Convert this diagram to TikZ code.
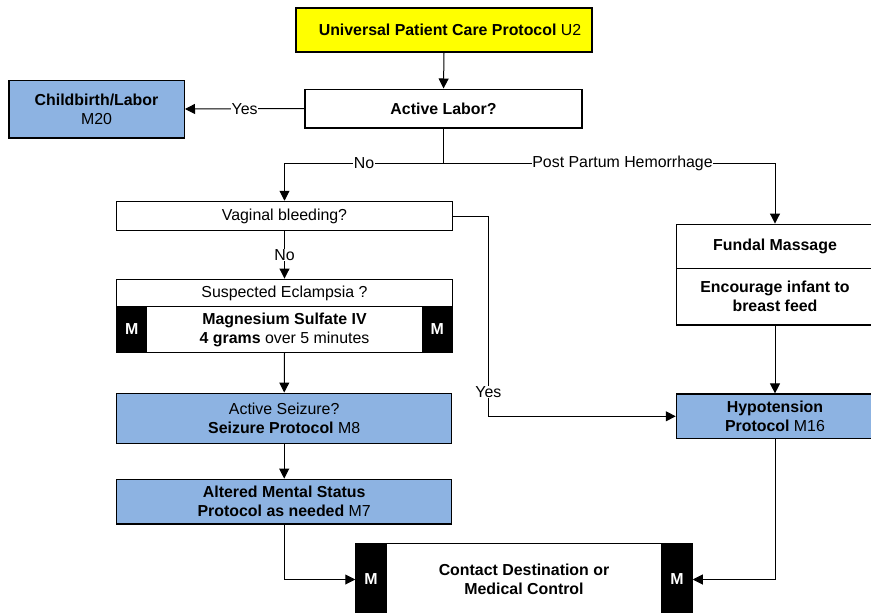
\documentclass[tikz,border=0pt]{standalone}
\usepackage{fontspec}
\setmainfont{Liberation Sans}
\usetikzlibrary{arrows.meta}
\definecolor{protoblue}{RGB}{141,179,226}
\definecolor{startyellow}{RGB}{255,255,0}
\tikzset{
  box/.style={draw=black, line width=1.5pt, inner sep=0pt, align=center,
    font=\fontsize{15.9}{19}\selectfont},
  whitebox/.style={box, fill=white},
  bluebox/.style={box, fill=protoblue},
  yellowbox/.style={box, fill=startyellow},
  mbox/.style={box, fill=black, text=white, font=\fontsize{15.9}{19}\selectfont\bfseries},
  link/.style={draw=black, line width=1pt, -{Triangle[length=10pt,width=10pt]}},
  plain/.style={draw=black, line width=1pt},
  lbl/.style={fill=white, inner sep=0.6pt, font=\fontsize{15.9}{19}\selectfont}
}
\begin{document}
\begin{tikzpicture}[x=1pt,y=-1pt]
\useasboundingbox (0,0) rectangle (871,613);

% start and first decision
\node[yellowbox, minimum width=296pt, minimum height=44pt] (upc) at (444,30)
  {\hspace*{12pt}\textbf{Universal Patient Care Protocol} U2};
\node[whitebox, minimum width=277pt, minimum height=38.5pt] (labor) at (443.5,108.5)
  {\textbf{Active Labor?}};
\node[bluebox, minimum width=175.5pt, minimum height=57.5pt] (birth) at (96.5,109)
  {\textbf{Childbirth/Labor}\\M20};

% left column
\node[whitebox, minimum width=335.6pt, minimum height=29pt] (bleed) at (284.5,216)
  {Vaginal bleeding?};
\node[whitebox, minimum width=335.6pt, minimum height=27.4pt] (eclq) at (284.5,293)
  {Suspected Eclampsia ?};
\node[whitebox, minimum width=335.6pt, minimum height=45.6pt] (mag) at (284.5,329.5)
  {\textbf{Magnesium Sulfate IV}\\\textbf{4 grams} over 5 minutes};
\node[mbox, minimum width=30pt, minimum height=45.6pt] (magml) at (131.7,329.5) {M};
\node[mbox, minimum width=30pt, minimum height=45.6pt] (magmr) at (437.3,329.5) {M};
\node[bluebox, minimum width=335pt, minimum height=50pt] (seiz) at (284.2,418.3)
  {Active Seizure?\\\textbf{Seizure Protocol} M8};
\node[bluebox, minimum width=335pt, minimum height=44.7pt] (ams) at (284.2,501.7)
  {\textbf{Altered Mental Status}\\\textbf{Protocol as needed} M7};

% right column
\node[whitebox, minimum width=196.6pt, minimum height=44pt] (fundal) at (775,246.3)
  {\textbf{Fundal Massage}};
\node[whitebox, minimum width=196.6pt, minimum height=56.7pt] (feed) at (775,296.7)
  {\textbf{Encourage infant to}\\\textbf{breast feed}};
\node[bluebox, minimum width=197pt, minimum height=44.3pt] (hypo) at (775,416.3)
  {\textbf{Hypotension}\\\textbf{Protocol} M16};

% final step
\node[whitebox, minimum width=276pt, minimum height=72.4pt] (contact) at (524,579.5)
  {\textbf{Contact Destination or}\\\textbf{Medical Control}};
\node[mbox, minimum width=30pt, minimum height=72.4pt] (cml) at (371,579.5) {M};
\node[mbox, minimum width=30pt, minimum height=72.4pt] (cmr) at (677,579.5) {M};

% connectors
\coordinate (split) at (443.5,163.3);
\draw[link] (upc.south) -- (labor.north);
\draw[link] (labor.west) -- node[lbl]{Yes} (birth.east);
\draw[plain] (labor.south) -- (split);
\draw[link] (split) -| node[lbl, pos=0.25]{No} (bleed.north);
\draw[link] (split) -| node[lbl, pos=0.27]{Post Partum Hemorrhage} (fundal.north);
\draw[link] (bleed.south) -- node[lbl]{No} (eclq.north);
\draw[link] (bleed.east) -- ++(35.3,0) |- node[lbl, pos=0.44]{Yes} (hypo.west);
\draw[link] (mag.south) -- (seiz.north);
\draw[link] (seiz.south) -- (ams.north);
\draw[link] (ams.south) |- (cml.west);
\draw[link] (feed.south) -- (hypo.north);
\draw[link] (hypo.south) |- (cmr.east);
\end{tikzpicture}
\end{document}
